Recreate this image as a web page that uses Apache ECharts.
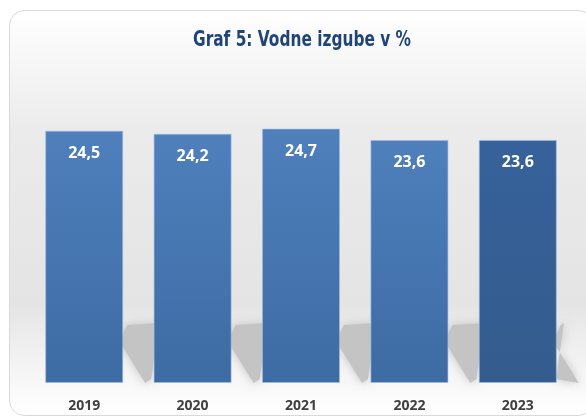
<!DOCTYPE html>
<html>
<head>
<meta charset="utf-8">
<script src="https://cdn.jsdelivr.net/npm/echarts@6/dist/echarts.min.js"></script>
<style>
  html, body, #main { width: 100%; height: 100%; margin: 0; background: #fff; }
</style>
</head>
<body>
<div id="main"></div>
<script>
// podatki
var years = ['2019', '2020', '2021', '2022', '2023'];
var losses = [24.5, 24.2, 24.7, 23.6, 23.6];
var titleText = 'Graf 5: Vodne izgube v %';

var chart = echarts.init(document.getElementById('main'));

// naslov je zelo ozek, zato ga stisnemo na sirino iz slike
var titleFont = 'bold 21px "DejaVu Sans Condensed", "DejaVu Sans", sans-serif';
var ctx = document.createElement('canvas').getContext('2d');
ctx.font = titleFont;
var titleScale = 218 / ctx.measureText(titleText).width;

var barBlue = new echarts.graphic.LinearGradient(0, 0, 0, 1, [
  { offset: 0, color: '#4f80bb' },
  { offset: 1, color: '#3d6ba4' }
]);
var barDark = new echarts.graphic.LinearGradient(0, 0, 0, 1, [
  { offset: 0, color: '#36619a' },
  { offset: 1, color: '#345c8e' }
]);

var barData = losses.map(function (v, i) {
  return {
    value: v,
    itemStyle: { color: i === losses.length - 1 ? barDark : barBlue }
  };
});

// senca ob dnu stolpcev
function renderShadow(params, api) {
  var base = api.coord([api.value(0), 0]);
  var w = api.size([1, 0])[0] * 0.72;
  var x1 = base[0] + w / 2;
  var y = base[1];
  var cs = params.coordSys;
  var right = (cs && cs.width) ? cs.x + cs.width - 8 : x1 + 36;
  var xr = Math.min(x1 + 36, right);
  return {
    type: 'polygon',
    shape: {
      points: [
        [x1 - 4, y - 42],
        [x1 + 4, y - 58],
        [xr, y - 60],
        [xr - 8, y - 4],
        [x1 + 22, y]
      ]
    },
    style: {
      fill: '#c4c4c4',
      shadowBlur: 10,
      shadowColor: '#c4c4c4'
    }
  };
}

var option = {
  animation: false,
  graphic: [
    {
      type: 'rect',
      z: -100,
      silent: true,
      shape: { x: 9.5, y: 10.5, width: 584, height: 405, r: 15 },
      style: {
        stroke: '#d9d9d9',
        lineWidth: 1,
        fill: new echarts.graphic.LinearGradient(0, 0, 0, 1, [
          { offset: 0, color: '#ffffff' },
          { offset: 0.12, color: '#f7f7f7' },
          { offset: 0.3, color: '#ebebeb' },
          { offset: 0.72, color: '#e4e4e4' },
          { offset: 0.88, color: '#f4f4f4' },
          { offset: 1, color: '#ffffff' }
        ])
      }
    },
    {
      type: 'text',
      z: 100,
      x: 302,
      y: 41,
      scaleX: titleScale,
      style: {
        text: titleText,
        x: 0,
        y: 0,
        align: 'center',
        verticalAlign: 'middle',
        font: titleFont,
        fill: '#1f4477'
      }
    }
  ],
  grid: { left: 30, right: 14, top: 74, bottom: 36 },
  xAxis: {
    type: 'category',
    data: years,
    axisLine: { show: false },
    axisTick: { show: false },
    axisLabel: {
      color: '#404040',
      fontFamily: 'Open Sans',
      fontWeight: 'bold',
      fontSize: 14,
      margin: 16
    }
  },
  yAxis: {
    type: 'value',
    min: 0,
    max: 30,
    show: false,
    splitLine: { show: false }
  },
  series: [
    {
      type: 'custom',
      z: 1,
      silent: true,
      renderItem: renderShadow,
      encode: { x: 0, y: 1 },
      data: losses.map(function (v, i) { return [i, v]; })
    },
    {
      type: 'bar',
      z: 2,
      barWidth: '72%',
      data: barData,
      itemStyle: {
        borderColor: 'rgba(160,190,230,0.6)',
        borderWidth: 1
      },
      label: {
        show: true,
        position: 'insideTop',
        distance: 15,
        color: '#ffffff',
        fontFamily: 'Open Sans',
        fontWeight: 'bold',
        fontSize: 16,
        formatter: function (p) {
          return p.value.toFixed(1).replace('.', ',');
        }
      }
    }
  ]
};
chart.setOption(option);
window.onresize = chart.resize;
</script>
</body>
</html>
